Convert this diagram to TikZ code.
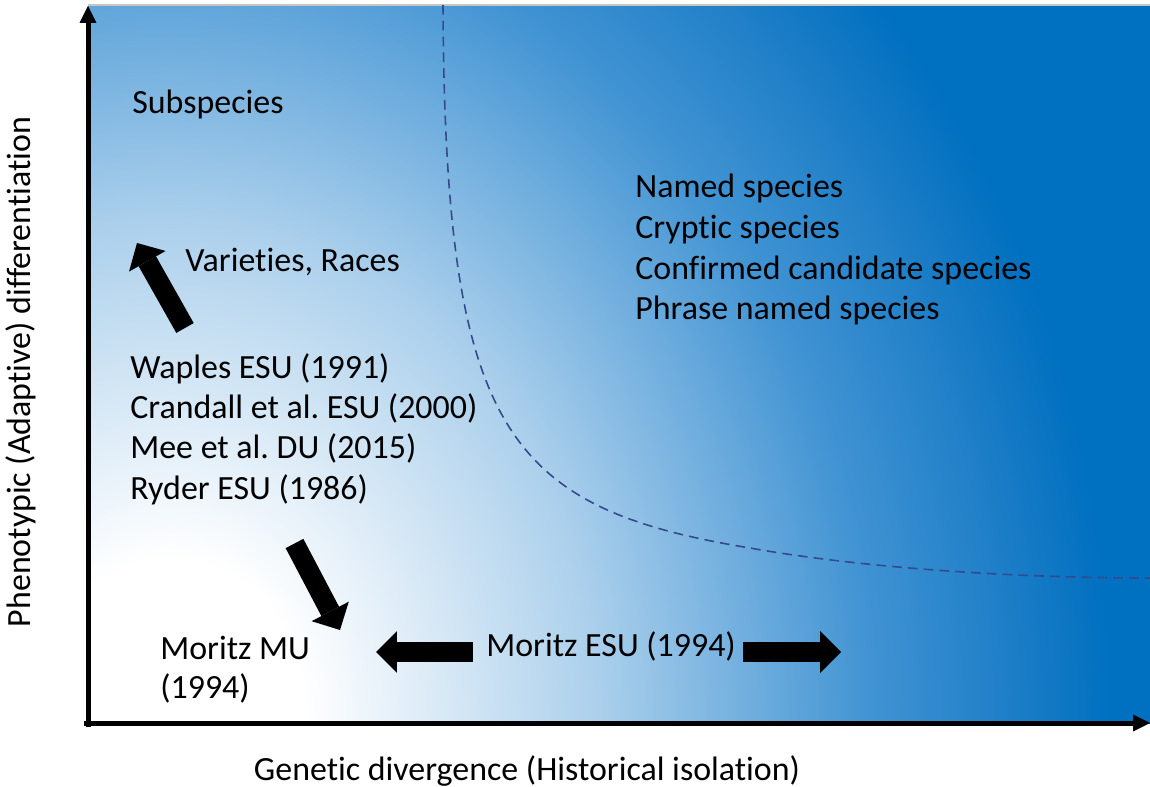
\documentclass[tikz,border=0pt]{standalone}
\usepackage{fontspec}
\setmainfont{Carlito}[Ligatures={NoCommon}]
\usetikzlibrary{arrows.meta, positioning}

\definecolor{deepblue}{RGB}{0,112,192}
\definecolor{strongblue}{RGB}{26,124,198}
\definecolor{midblue}{RGB}{66,148,211}
\definecolor{paleblue}{RGB}{172,208,236}
\definecolor{curveblue}{RGB}{52,74,140}
\pgfdeclareradialshading{plotfade}{\pgfpointorigin}{color(0bp)=(white); color(2.6bp)=(white); color(8.2bp)=(paleblue); color(13.4bp)=(midblue); color(16.4bp)=(strongblue); color(18.1bp)=(deepblue); color(50bp)=(deepblue)}

\begin{document}
\frenchspacing
\begin{tikzpicture}[
  x=0.02cm, y=-0.02cm,
  every node/.style={font=\fontsize{19.3}{23}\selectfont, inner sep=0pt},
  category/.style={anchor=base west},
  axis line/.style={draw=black, line width=0.1cm, -{Triangle[width=0.34cm, length=0.34cm, line width=0pt]}},
  block arrow/.style={draw=black, line width=0.4cm, -{Triangle[width=0.84cm, length=0.42cm, line width=0pt]}},
  boundary/.style={draw=curveblue, line width=0.9pt, dash pattern=on 5.5pt off 3.5pt}
]
\useasboundingbox (0,0) rectangle (1150,787);

% plot area
\begin{scope}
  \clip (88,5) rectangle (1150,723);
  \shade[shading=plotfade] (170,715) ellipse [x radius=1300, y radius=1500];
\end{scope}
\draw[gray!45, line width=1.5pt] (88,5) -- (1150,5);

% species boundary
\draw[boundary] (443,5) .. controls (445,430) and (505,508) .. (750,548)
  .. controls (850,566) and (1000,578) .. (1150,578);

% axes
\coordinate (origin) at (88,723);
\coordinate (ytip) at (88,6);
\coordinate (xtip) at (1150,723);
\draw[axis line] ([yshift=-2.5]origin) -- (ytip);
\draw[axis line] ([xshift=-2.5]origin) -- (xtip);

\node[anchor=base] (xlabel) at (527,780) {Genetic divergence (Historical isolation)};
\node[anchor=base, rotate=90] (ylabel) at (31,372) {Phenotypic (Adaptive) differentiation};

% categories
\node[category] (subspecies) at (132,114) {Subspecies};
\node[category] (varieties) at (185,272) {Varieties, Races};
\foreach \txt [count=\i] in {Named species, Cryptic species, Confirmed candidate species, Phrase named species}
  \node[category] (species\i) at (635,{198+40.6*(\i-1)}) {\txt};
\foreach \txt [count=\i] in {Waples ESU (1991), Crandall et al. ESU (2000), Mee et al. DU (2015), Ryder ESU (1986)}
  \node[category] (esu\i) at (130,{378+40.4*(\i-1)}) {\txt};
\node[category] (moritzmu) at (160,659) {Moritz MU};
\node[category] (moritzyear) at (160,698) {(1994)};
\node[category] (moritzesu) at (486,656) {Moritz ESU (1994)};

% block arrows
\coordinate (upstart) at (185,328);
\coordinate (upend) at (137,243);
\coordinate (downstart) at (294.5,543.5);
\coordinate (downend) at (340,630);
\coordinate (leftstart) at (473,652);
\coordinate (leftend) at (376,652);
\coordinate (rightstart) at (743,652);
\coordinate (rightend) at (841,652);
\draw[block arrow] (upstart) -- (upend);
\draw[block arrow] (downstart) -- (downend);
\draw[block arrow] (leftstart) -- (leftend);
\draw[block arrow] (rightstart) -- (rightend);

\end{tikzpicture}
\end{document}
